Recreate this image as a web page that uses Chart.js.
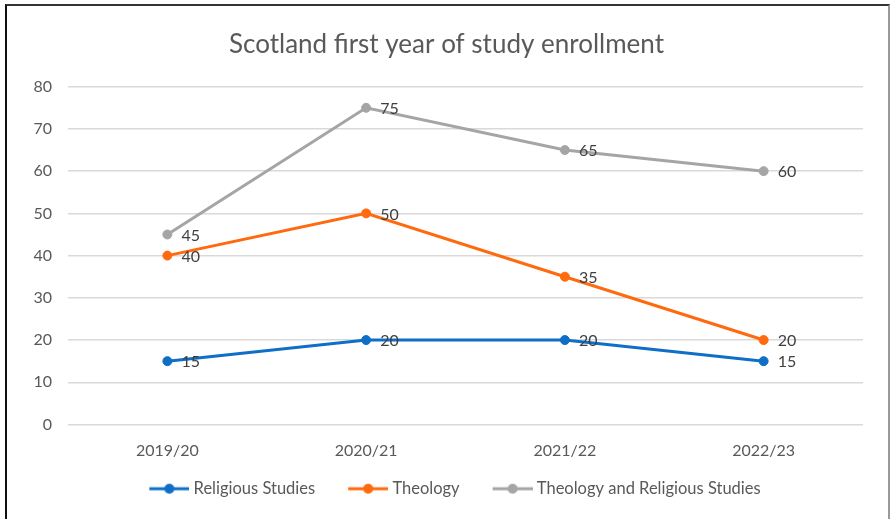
<!DOCTYPE html>
<html>
<head>
<meta charset="utf-8">
<script src="https://cdn.jsdelivr.net/npm/chart.js@4"></script>
<style>
  html, body { margin: 0; padding: 0; background: #fff; }
  #wrap {
    position: relative; box-sizing: border-box;
    border-left: 2px solid #111; border-top: 2px solid #333; border-right: 2px solid #999;
    margin: 0; left: 5px; top: 4px; width: 885px; height: 519px;
  }
  canvas { position: absolute; left: -7px; top: -6px; }
</style>
</head>
<body>
<div id="wrap"><canvas id="lineChart" width="890" height="523"></canvas></div>
<script>
// line chart

const years = ['2019/20', '2020/21', '2021/22', '2022/23'];
const religiousStudies = [15, 20, 20, 15];
const theology = [40, 50, 35, 20];
const theologyAndRS = [45, 75, 65, 60];

const blue = '#0F6FC6';
const orange = '#FF6A0F';
const grey = '#A5A5A5';
const font = 'Lato, "Open Sans", sans-serif';

// legend marker: 40px line with a dot, sitting at the right end of a wider canvas
const markerBox = 53;
function marker(color) {
    const c = document.createElement('canvas');
    c.width = markerBox + 8;
    c.height = 12;
    const ctx = c.getContext('2d');
    const x0 = c.width - 40;
    ctx.strokeStyle = color;
    ctx.lineWidth = 3;
    ctx.beginPath();
    ctx.moveTo(x0, 6);
    ctx.lineTo(c.width, 6);
    ctx.stroke();
    ctx.fillStyle = color;
    ctx.beginPath();
    ctx.arc(x0 + 20, 6, 5, 0, Math.PI * 2);
    ctx.fill();
    return c;
}

// values drawn to the right of each point
const valueLabels = {
    id: 'valueLabels',
    afterDatasetsDraw(chart) {
        const ctx = chart.ctx;
        ctx.save();
        ctx.font = '16px ' + font;
        ctx.fillStyle = '#404040';
        ctx.textAlign = 'left';
        ctx.textBaseline = 'middle';
        chart.data.datasets.forEach((ds, i) => {
            chart.getDatasetMeta(i).data.forEach((pt, j) => {
                ctx.fillText(ds.data[j], pt.x + 14, pt.y + 1);
            });
        });
        ctx.restore();
    }
};

const lineChart = document.querySelector('#lineChart');

new Chart(lineChart, {
    type: 'line',
    data: {
        labels: years,
        datasets: [
            {
                label: 'Religious Studies',
                data: religiousStudies,
                borderColor: blue,
                backgroundColor: blue,
            },
            {
                label: 'Theology',
                data: theology,
                borderColor: orange,
                backgroundColor: orange,
            },
            {
                label: 'Theology and Religious Studies',
                data: theologyAndRS,
                borderColor: grey,
                backgroundColor: grey,
            }
        ]
    },
    options: {
        responsive: false,
        animation: false,
        layout: { padding: { left: 30, right: 27, top: 0, bottom: 16 } },
        elements: {
            line: { borderWidth: 3, tension: 0 },
            point: { radius: 4.5, hoverRadius: 4.5, pointStyle: 'circle' }
        },
        scales: {
            x: {
                offset: true,
                grid: { display: false },
                border: { display: false },
                ticks: { color: '#595959', font: { size: 16, family: font }, padding: 9 },
                afterFit(scale) { scale.height = 40; }
            },
            y: {
                min: 0,
                max: 80,
                ticks: { stepSize: 10, color: '#595959', font: { size: 16, family: font }, padding: 16 },
                grid: { color: '#D9D9D9', lineWidth: 1.5, drawTicks: false },
                border: { display: false },
                afterFit(scale) { scale.width = 38; }
            }
        },
        plugins: {
            title: {
                display: true,
                text: 'Scotland first year of study enrollment',
                color: '#595959',
                font: { size: 26, weight: 'normal', family: font },
                padding: { top: 29.5, bottom: 26 }
            },
            legend: {
                position: 'bottom',
                labels: {
                    color: '#595959',
                    font: { size: 16.5, family: font },
                    padding: 16,
                    boxWidth: markerBox,
                    pointStyleWidth: markerBox,
                    usePointStyle: true,
                    generateLabels(chart) {
                        return chart.data.datasets.map((ds, i) => ({
                            text: ds.label,
                            pointStyle: marker(ds.borderColor),
                            fillStyle: ds.borderColor,
                            strokeStyle: ds.borderColor,
                            fontColor: '#595959',
                            lineWidth: 0,
                            datasetIndex: i
                        }));
                    }
                }
            },
            tooltip: { enabled: false }
        }
    },
    plugins: [valueLabels]
});
</script>
</body>
</html>
